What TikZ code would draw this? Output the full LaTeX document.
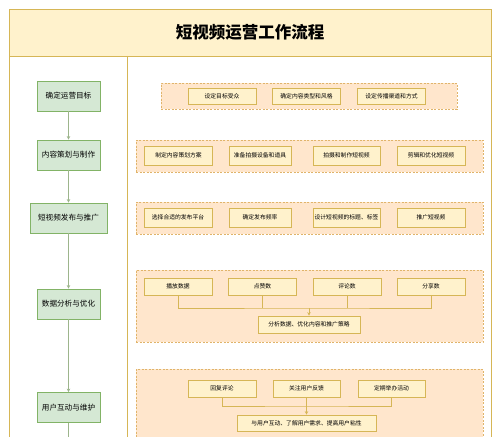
\documentclass[tikz,border=0pt]{standalone}
\usepackage{fontspec}
\setmainfont{Noto Sans CJK SC}
\usepackage{xcolor}
\usetikzlibrary{arrows.meta, positioning, calc}

\definecolor{headfill}{HTML}{FFF2CC}
\definecolor{headline}{HTML}{D6B656}
\definecolor{stagefill}{HTML}{D5E8D4}
\definecolor{stageline}{HTML}{82B366}
\definecolor{arrowline}{HTML}{9DB58C}
\definecolor{grpfill}{HTML}{FFE6CC}
\definecolor{grpline}{HTML}{E0B46A}

\begin{document}
\begin{tikzpicture}[
    x=1pt, y=-1pt,
    stage/.style={draw=stageline, fill=stagefill, line width=0.8pt, minimum width=63pt, minimum height=30pt, inner sep=0pt, font=\fontsize{7.6}{9}\selectfont},
    grp/.style={draw=grpline, fill=grpfill, dashed, dash pattern=on 2pt off 1.5pt, line width=0.7pt, inner sep=0pt},
    item/.style={draw=headline, fill=headfill, line width=0.7pt, minimum width=68pt, minimum height=19pt, inner sep=0pt, font=\fontsize{5.8}{7}\selectfont},
    result/.style={item, minimum height=17pt},
    link/.style={draw=headline, line width=0.7pt},
    arrow/.style={draw=arrowline, line width=0.6pt, -{Stealth[length=3.5pt, width=3.5pt]}},
    joinarrow/.style={link, -{Stealth[length=3.5pt, width=3.5pt]}}
]
\useasboundingbox (0,0) rectangle (500,436);
\clip (0,0) rectangle (500,436);

% Frame and title
\fill[white] (0,0) rectangle (500,436);
\draw[headline, line width=0.9pt] (9,9) rectangle (491,470);
\node[draw=headline, fill=headfill, line width=0.9pt, minimum width=482pt, minimum height=47pt, inner sep=0pt, font=\fontsize{16.5}{18}\selectfont\bfseries] (title) at (250,32.5) {短视频运营工作流程};
\draw[headline, line width=0.9pt] (127,56) -- (127,470);

% Stages on the left
\node[stage] (s1) at (68.5,96) {确定运营目标};
\node[stage] (s2) at (68.5,155) {内容策划与制作};
\node[stage, minimum width=77pt] (s3) at (68.5,218) {短视频发布与推广};
\node[stage] (s4) at (68.5,304) {数据分析与优化};
\node[stage] (s5) at (68.5,407.5) {用户互动与维护};
\coordinate (s6) at (68.5,470);

\draw[arrow] (s1) -- (s2);
\draw[arrow] (s2) -- (s3);
\draw[arrow] (s3) -- (s4);
\draw[arrow] (s4) -- (s5);
\draw[arrow] (s5) -- (s6);

% Group 1: goals
\node[grp, minimum width=296pt, minimum height=26pt] (g1) at (309,96) {};
\node[item, minimum height=16pt] (a1) at (222,96) {设定目标受众};
\node[item, minimum height=16pt] (a2) at (306.5,96) {确定内容类型和风格};
\node[item, minimum height=16pt] (a3) at (391.5,96) {设定传播渠道和方式};

% Group 2: content production
\node[grp, minimum width=347pt, minimum height=32pt] (g2) at (309.5,156) {};
\node[item] (b1) at (178.5,155.5) {制定内容策划方案};
\node[item, minimum width=62pt] (b2) at (260,155.5) {准备拍摄设备和道具};
\node[item, minimum width=67pt] (b3) at (346.5,155.5) {拍摄和制作短视频};
\node[item] (b4) at (431,155.5) {剪辑和优化短视频};

% Group 3: publishing
\node[grp, minimum width=347pt, minimum height=32pt] (g3) at (309.5,218) {};
\node[item] (c1) at (178,217.5) {选择合适的发布平台};
\node[item, minimum width=62pt] (c2) at (260,217.5) {确定发布频率};
\node[item, minimum width=67pt] (c3) at (346.5,217.5) {设计短视频的标题、标签};
\node[item] (c4) at (431,217.5) {推广短视频};

% Group 4: data analysis
\node[grp, minimum width=347pt, minimum height=72pt] (g4) at (309.5,306) {};
\node[result] (d1) at (178,286.5) {播放数据};
\node[result] (d2) at (262.5,286.5) {点赞数};
\node[result] (d3) at (347,286.5) {评论数};
\node[result] (d4) at (431,286.5) {分享数};
\node[result, minimum width=102pt] (dres) at (309,324.5) {分析数据、优化内容和推广策略};
\coordinate (djoin) at (309,308);
\draw[link] (d1.south) |- (djoin) -| (d4.south);
\draw[link] (d2.south) -- (d2.south |- djoin);
\draw[link] (d3.south) -- (d3.south |- djoin);
\draw[joinarrow] (djoin) -- (dres.north);

% Group 5: user interaction
\node[grp, minimum width=347pt, minimum height=80pt] (g5) at (309.5,409) {};
\node[result] (e1) at (222,388.5) {回复评论};
\node[result, minimum width=67pt] (e2) at (306.5,388.5) {关注用户反馈};
\node[result, minimum width=67pt] (e3) at (391.5,388.5) {定期举办活动};
\node[result, minimum width=139pt, minimum height=16pt] (eres) at (306.5,423) {与用户互动、了解用户需求、提高用户粘性};
\coordinate (ejoin) at (306.5,406);
\draw[link] (e1.south) |- (ejoin) -| (e3.south);
\draw[link] (e2.south) -- (ejoin);
\draw[joinarrow] (ejoin) -- (eres.north);
\end{tikzpicture}
\end{document}
